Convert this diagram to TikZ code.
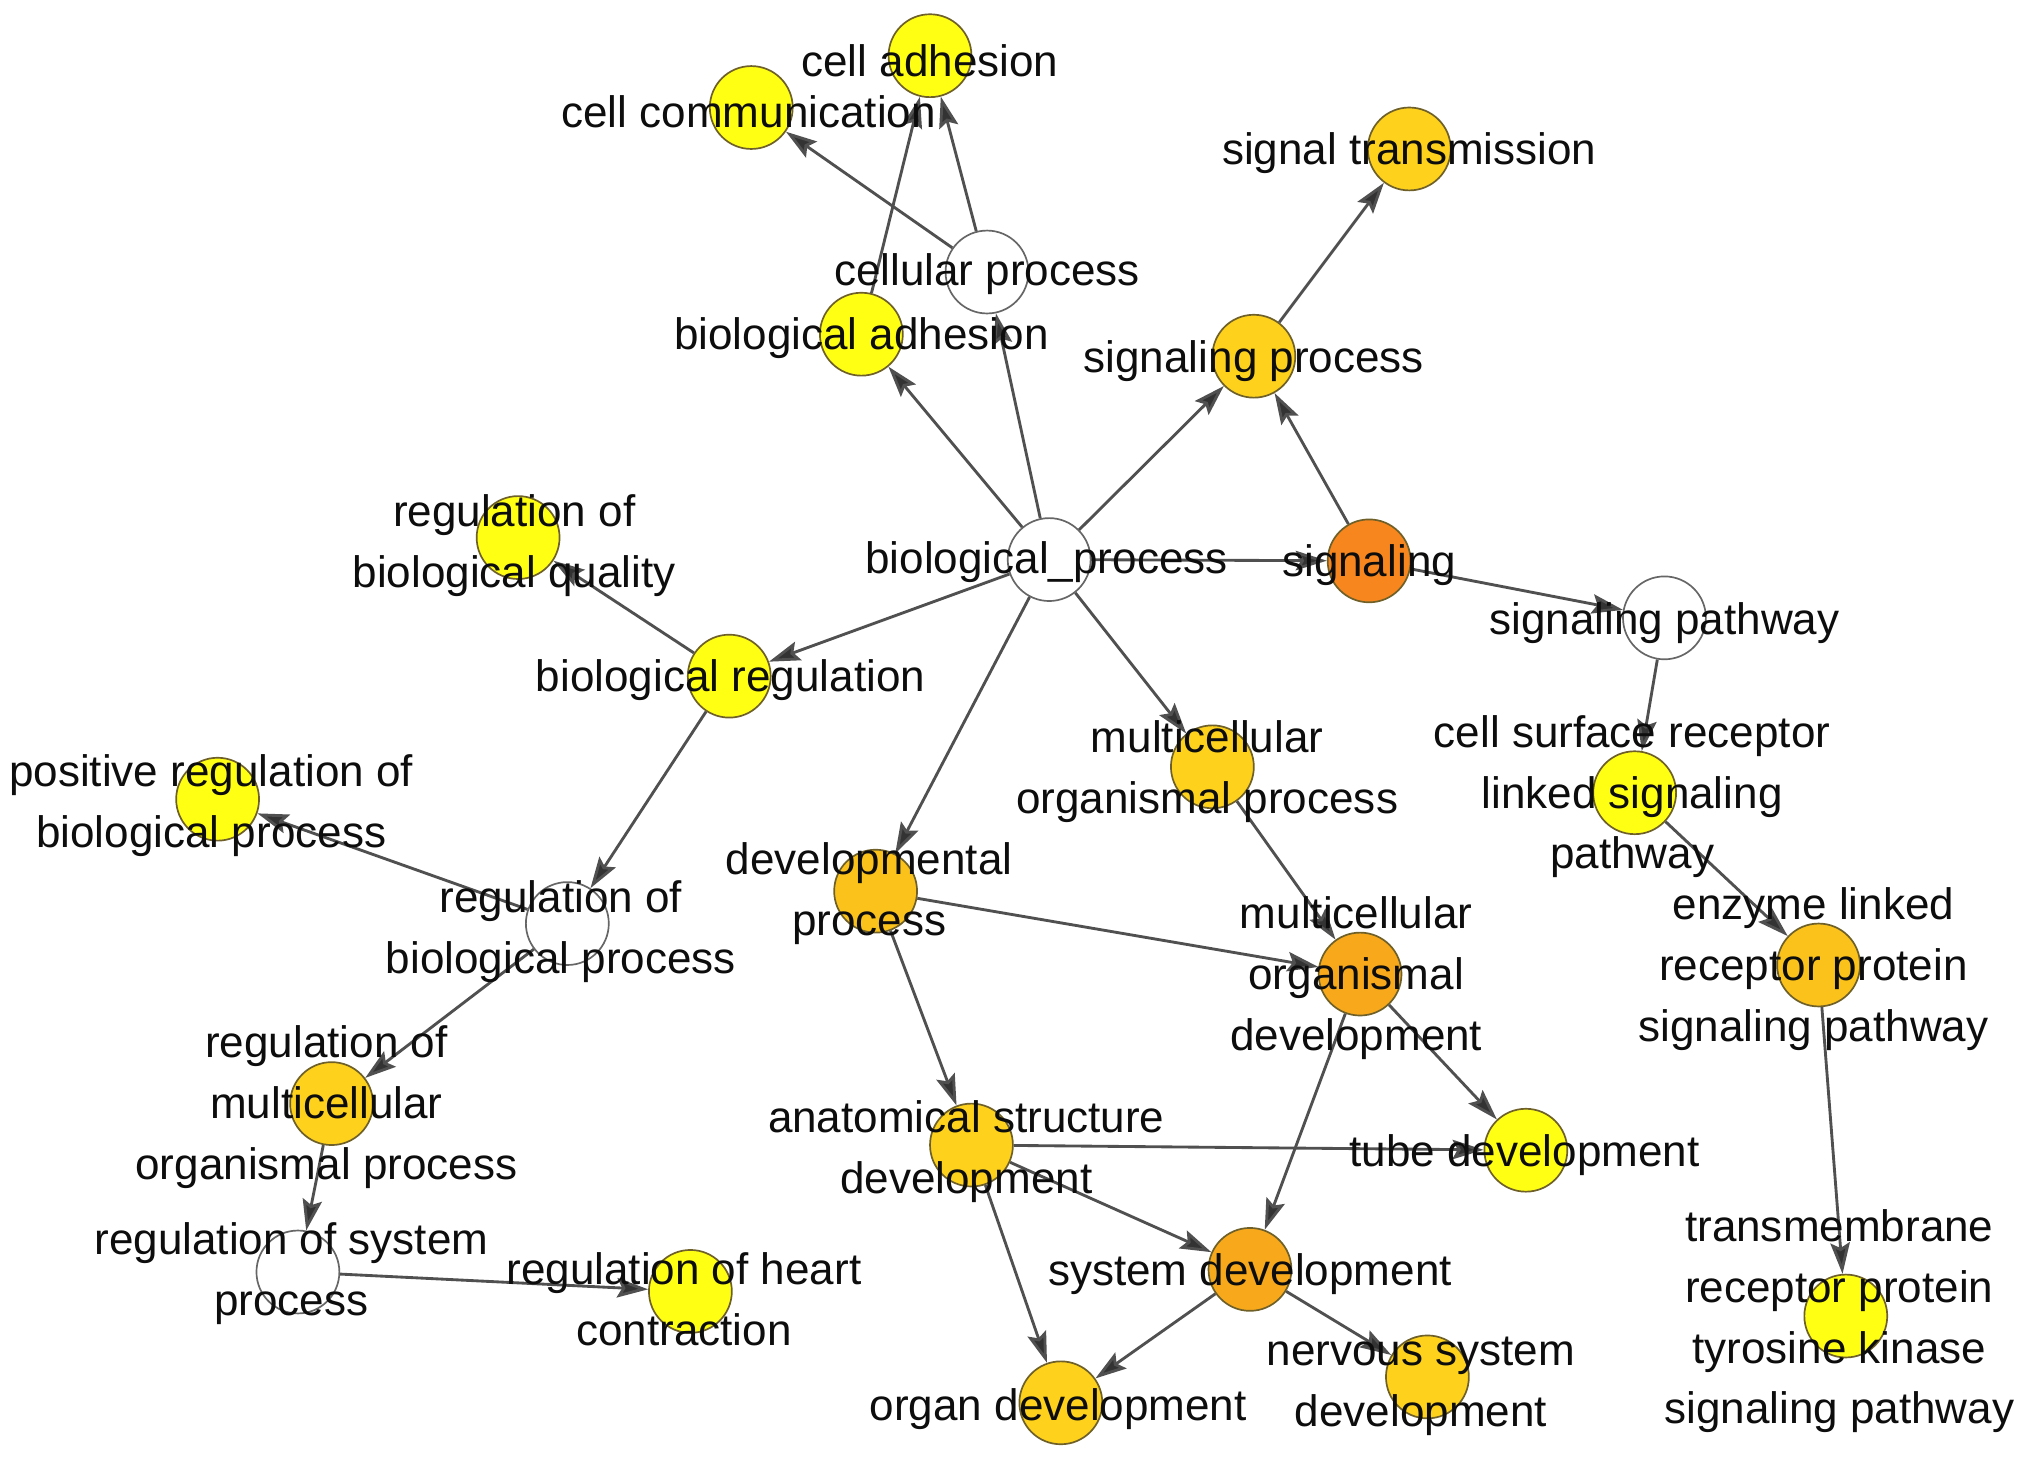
\documentclass[tikz,border=0pt]{standalone}
\usepackage{fontspec}
\setmainfont{Liberation Sans}
\usetikzlibrary{arrows.meta}
\definecolor{cyel}{HTML}{FFFF14}
\definecolor{cgold}{HTML}{FDD11C}
\definecolor{camb}{HTML}{FBC21B}
\definecolor{corg}{HTML}{F8A91B}
\definecolor{csig}{HTML}{F7861E}
\definecolor{cbord}{HTML}{6E6028}
\definecolor{cedge}{HTML}{505050}
\tikzset{
  gonode/.style={circle,draw=cbord,line width=1.3pt,minimum size=64pt,inner sep=0pt},
  wnode/.style={gonode,draw=black!60,fill=white},
  golabel/.style={font=\fontsize{34}{47}\selectfont,align=center,text=black!95,inner sep=0pt,yshift=-3pt},
  goedge/.style={draw=cedge,line width=2.2pt,-{Stealth[length=24pt,width=15pt,inset=4pt,fill=black!80]}},
}
\begin{document}
\begin{tikzpicture}[x=1pt,y=-1pt]
\useasboundingbox[fill=white] (0,0) rectangle (1568,1128);
% circles
\node[gonode,fill=cyel] (cellAdh) at (718,43) {};
\node[gonode,fill=cyel] (cellComm) at (580,83) {};
\node[wnode] (cellProc) at (762,210) {};
\node[gonode,fill=cyel] (bioAdh) at (665,258) {};
\node[gonode,fill=cgold] (sigTrans) at (1088,115) {};
\node[gonode,fill=cgold] (sigProc) at (968,275) {};
\node[wnode] (bioProc) at (810,432) {};
\node[gonode,fill=csig] (signaling) at (1057,433) {};
\node[wnode] (sigPath) at (1285,477) {};
\node[gonode,fill=cyel] (regBQ) at (400,415) {};
\node[gonode,fill=cyel] (bioReg) at (563,522) {};
\node[gonode,fill=cyel] (posReg) at (168,617) {};
\node[wnode] (regBP) at (438,713) {};
\node[gonode,fill=camb] (devProc) at (676,688) {};
\node[gonode,fill=cgold] (mop) at (936,592) {};
\node[gonode,fill=cyel] (csr) at (1262,612) {};
\node[gonode,fill=corg] (mod) at (1050,752) {};
\node[gonode,fill=camb] (enz) at (1404,745) {};
\node[gonode,fill=cgold] (regMOP) at (256,852) {};
\node[gonode,fill=cgold] (asd) at (750,884) {};
\node[gonode,fill=cyel] (tube) at (1178,888) {};
\node[wnode] (regSys) at (230,982) {};
\node[gonode,fill=cyel] (regHeart) at (533,997) {};
\node[gonode,fill=corg] (sysDev) at (965,980) {};
\node[gonode,fill=cgold] (organ) at (819,1083) {};
\node[gonode,fill=cgold] (nerv) at (1102,1063) {};
\node[gonode,fill=cyel] (tm) at (1425,1016) {};
% edges
\draw[goedge] (cellProc) -- (cellComm);
\draw[goedge] (cellProc) -- (cellAdh);
\draw[goedge] (bioAdh) -- (cellAdh);
\draw[goedge] (bioProc) -- (cellProc);
\draw[goedge] (bioProc) -- (bioAdh);
\draw[goedge] (bioProc) -- (sigProc);
\draw[goedge] (signaling) -- (sigProc);
\draw[goedge] (sigProc) -- (sigTrans);
\draw[goedge] (bioProc) -- (signaling);
\draw[goedge] (signaling) -- (sigPath);
\draw[goedge] (sigPath) -- (csr);
\draw[goedge] (csr) -- (enz);
\draw[goedge] (enz) -- (tm);
\draw[goedge] (bioProc) -- (bioReg);
\draw[goedge] (bioReg) -- (regBQ);
\draw[goedge] (bioReg) -- (regBP);
\draw[goedge] (regBP) -- (posReg);
\draw[goedge] (regBP) -- (regMOP);
\draw[goedge] (regMOP) -- (regSys);
\draw[goedge] (regSys) -- (regHeart);
\draw[goedge] (bioProc) -- (devProc);
\draw[goedge] (bioProc) -- (mop);
\draw[goedge] (mop) -- (mod);
\draw[goedge] (devProc) -- (mod);
\draw[goedge] (devProc) -- (asd);
\draw[goedge] (mod) -- (tube);
\draw[goedge] (mod) -- (sysDev);
\draw[goedge] (asd) -- (tube);
\draw[goedge] (asd) -- (sysDev);
\draw[goedge] (asd) -- (organ);
\draw[goedge] (sysDev) -- (organ);
\draw[goedge] (sysDev) -- (nerv);
% labels
\node[golabel] (cellAdhL) at (718,44) {cell adhesion};
\node[golabel] (cellCommL) at (578,83) {cell communication};
\node[golabel] (cellProcL) at (762,209) {cellular process};
\node[golabel] (bioAdhL) at (665,258) {biological adhesion};
\node[golabel] (sigTransL) at (1088,115) {signal transmission};
\node[golabel] (sigProcL) at (968,276) {signaling process};
\node[golabel] (bioProcL) at (808,431) {biological\_process};
\node[golabel] (signalingL) at (1057,433) {signaling};
\node[golabel] (sigPathL) at (1285,478) {signaling pathway};
\node[golabel] (regBQL) at (397,418) {regulation of\\biological quality};
\node[golabel] (bioRegL) at (564,522) {biological regulation};
\node[golabel] (posRegL) at (163,619) {positive regulation of\\biological process};
\node[golabel] (regBPL) at (433,716) {regulation of\\biological process};
\node[golabel] (devProcL) at (671,687) {developmental\\process};
\node[golabel] (mopL) at (932,593) {multicellular\\organismal process};
\node[golabel] (csrL) at (1260,612) {cell surface receptor\\linked signaling\\pathway};
\node[golabel] (modL) at (1047,752) {multicellular\\organismal\\development};
\node[golabel] (enzL) at (1400,745) {enzyme linked\\receptor protein\\signaling pathway};
\node[golabel] (regMOPL) at (252,852) {regulation of\\multicellular\\organismal process};
\node[golabel] (asdL) at (746,886) {anatomical structure\\development};
\node[golabel] (tubeL) at (1177,889) {tube development};
\node[golabel] (regSysL) at (225,980) {regulation of system\\process};
\node[golabel] (regHeartL) at (528,1000) {regulation of heart\\contraction};
\node[golabel] (sysDevL) at (965,981) {system development};
\node[golabel] (organL) at (817,1085) {organ development};
\node[golabel] (nervL) at (1097,1067) {nervous system\\development};
\node[golabel] (tmL) at (1420,1017) {transmembrane\\receptor protein\\tyrosine kinase\\signaling pathway};
\end{tikzpicture}
\end{document}
